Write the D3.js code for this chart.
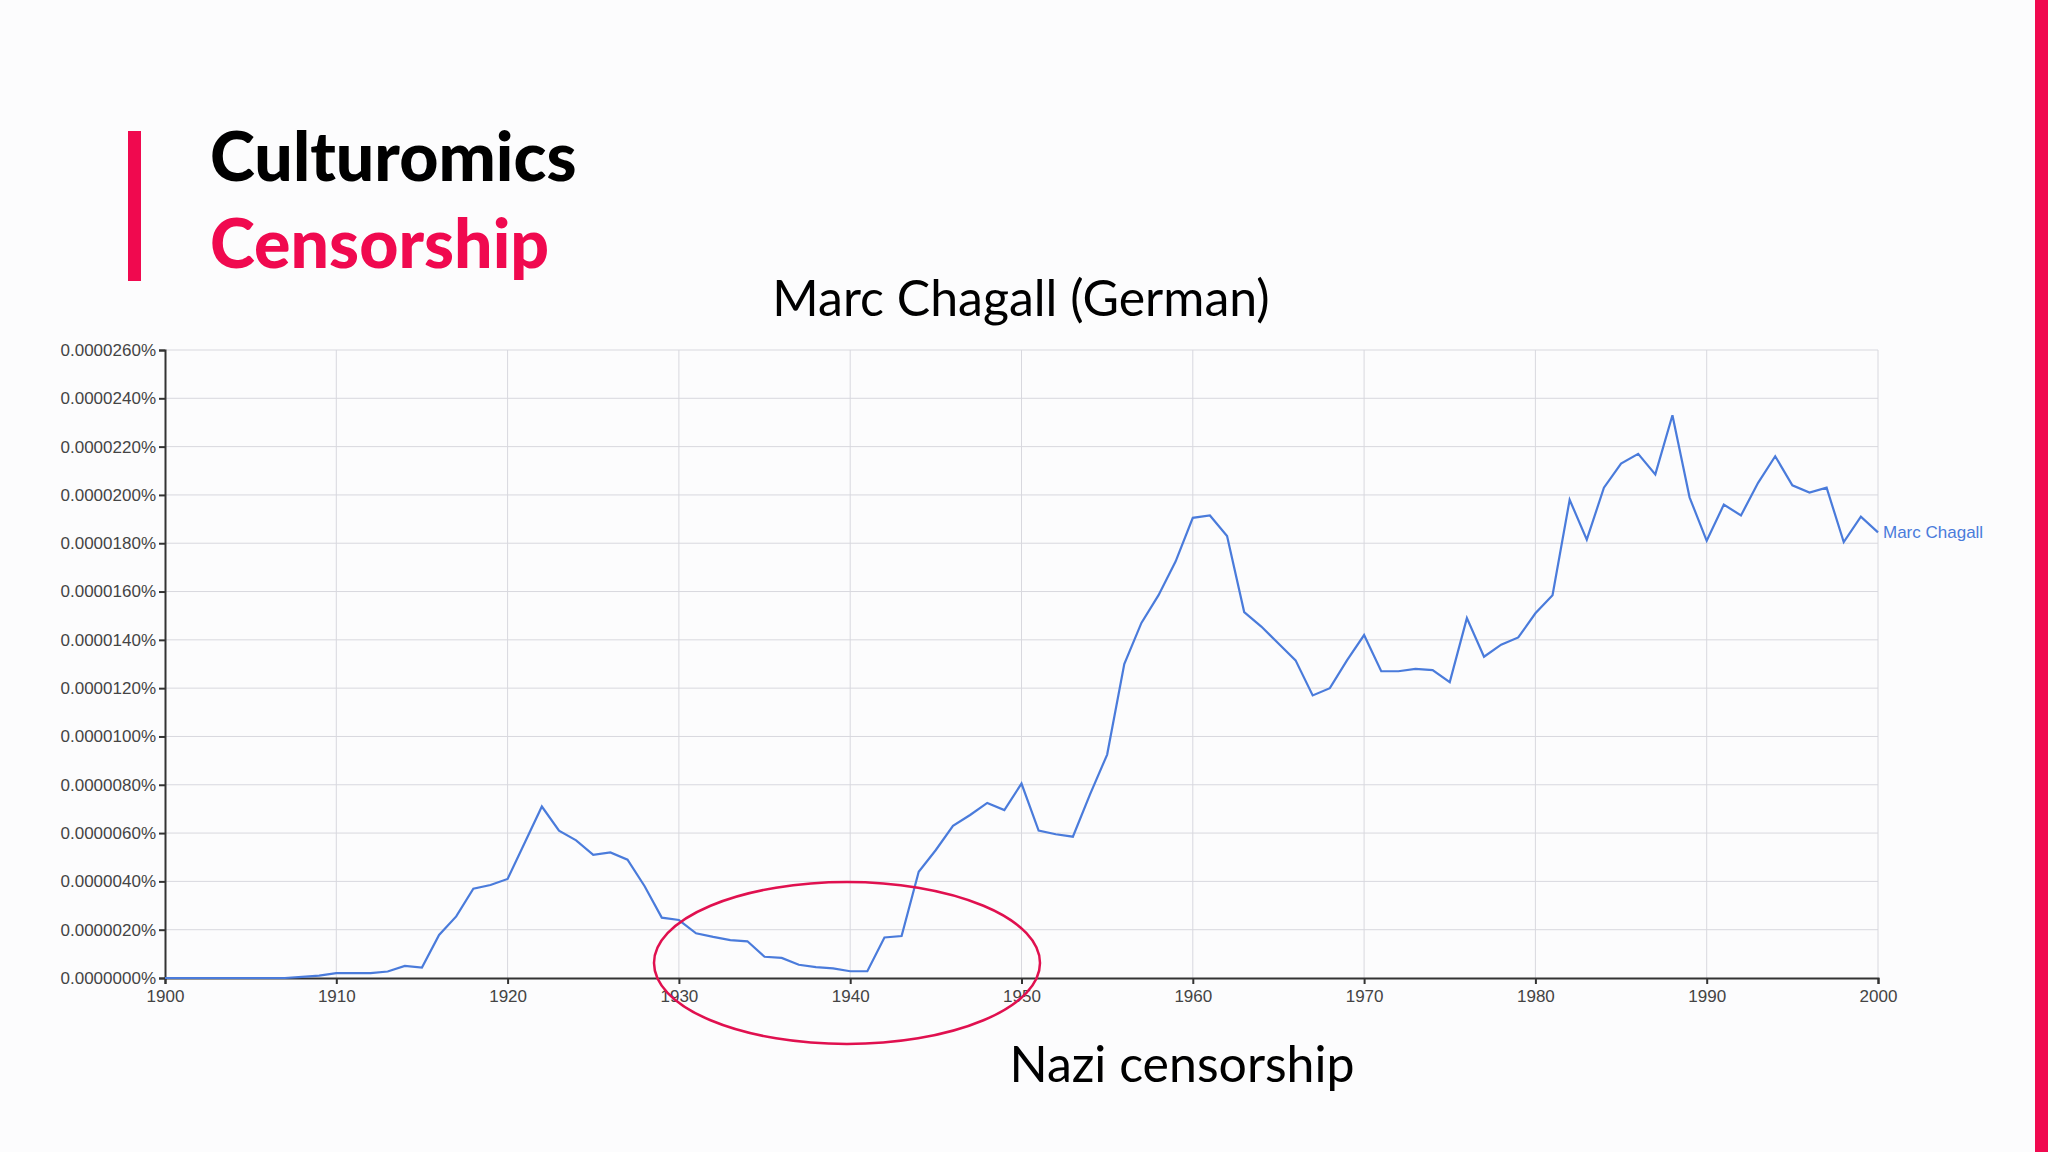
<!DOCTYPE html>
<html><head><meta charset="utf-8">
<script src="https://cdn.jsdelivr.net/npm/d3@7"></script>
<style>body{margin:0;background:#fcfcfd;}svg{display:block}</style>
</head><body>
<script>
const years = d3.range(1900, 2001);
const values = [0,0,0,0,0,0,0,0,0.05,0.1,
0.2,0.2,0.2,0.27,0.5,0.43,1.78,2.55,3.7,3.85,
4.1,5.6,7.1,6.1,5.7,5.1,5.2,4.9,3.8,2.5,
2.4,1.85,1.7,1.57,1.52,0.88,0.83,0.55,0.45,0.4,
0.28,0.28,1.68,1.74,4.4,5.3,6.3,6.75,7.25,6.95,
8.05,6.1,5.95,5.85,7.6,9.25,13.0,14.7,15.85,17.25,
19.05,19.15,18.3,15.15,14.55,13.85,13.15,11.7,12.0,13.15,
14.2,12.7,12.7,12.8,12.75,12.25,14.9,13.3,13.8,14.1,
15.1,15.85,19.8,18.15,20.3,21.3,21.7,20.85,23.3,19.9,
18.1,19.6,19.15,20.5,21.6,20.4,20.1,20.3,18.05,19.1,18.45];
const yTicks = d3.range(0, 27, 2);
const xTicks = d3.range(1900, 2001, 10);
const seriesName = "Marc Chagall";

const W=2048,H=1152;
const svg=d3.select("body").append("svg").attr("width",W).attr("height",H);
svg.append("rect").attr("width",W).attr("height",H).attr("fill","#fcfcfd");
svg.append("rect").attr("x",2035).attr("y",0).attr("width",13).attr("height",H).attr("fill","#f0094f");
svg.append("rect").attr("x",128).attr("y",131).attr("width",13).attr("height",150).attr("fill","#f0094f");
svg.append("text").attr("x",210).attr("y",181).attr("font-family","Lato, sans-serif").attr("font-weight",900).attr("font-size",68).attr("fill","#000").text("Culturomics");
svg.append("text").attr("x",210).attr("y",268).attr("font-family","Lato, sans-serif").attr("font-weight",900).attr("font-size",68).attr("fill","#f0094f").text("Censorship");
svg.append("text").attr("x",1021).attr("y",316).attr("text-anchor","middle").attr("font-family","Lato, sans-serif").attr("font-size",50).attr("fill","#000").text("Marc Chagall (German)");

const x=d3.scaleLinear().domain([1900,2000]).range([165,1878]);
const y=d3.scaleLinear().domain([0,26]).range([978,350]);
const g=svg.append("g");
g.selectAll(".gx").data(xTicks.slice(1)).join("line").attr("x1",d=>x(d)).attr("x2",d=>x(d)).attr("y1",350).attr("y2",978).attr("stroke","#d8d8de");
g.selectAll(".gy").data(yTicks.slice(1)).join("line").attr("x1",165).attr("x2",1878).attr("y1",d=>y(d)).attr("y2",d=>y(d)).attr("stroke","#d8d8de");
const fmt=d=>(d/1e6).toFixed(7)+"%";
const ya=g.append("g").attr("transform","translate(165,0)").call(d3.axisLeft(y).tickValues(yTicks).tickFormat(fmt).tickSize(6));
const xa=g.append("g").attr("transform","translate(0,978)").call(d3.axisBottom(x).tickValues(xTicks).tickFormat(d3.format("d")).tickSize(6));
[ya,xa].forEach(a=>{a.selectAll("text").attr("font-family","Liberation Sans, Arial").attr("font-size",17).attr("fill","#444");a.selectAll("line,path").attr("stroke","#333").attr("stroke-width",2);});
xa.selectAll("text").attr("dy","0.9em");
const line=d3.line().x((d,i)=>x(years[i])).y(d=>y(d));
g.append("path").datum(values).attr("d",line).attr("fill","none").attr("stroke","#4a7bdb").attr("stroke-width",2.2);
g.append("text").attr("x",1883).attr("y",y(values[100])).attr("dy","0.35em").attr("font-family","Liberation Sans, Arial").attr("font-size",17).attr("fill","#4a7bdb").text(seriesName);
svg.append("ellipse").attr("cx",847).attr("cy",963).attr("rx",193).attr("ry",81).attr("fill","none").attr("stroke","#e0104f").attr("stroke-width",2.5);
svg.append("text").attr("x",1182).attr("y",1082).attr("text-anchor","middle").attr("font-family","Lato, sans-serif").attr("font-size",50).attr("fill","#000").text("Nazi censorship");
</script></body></html>
